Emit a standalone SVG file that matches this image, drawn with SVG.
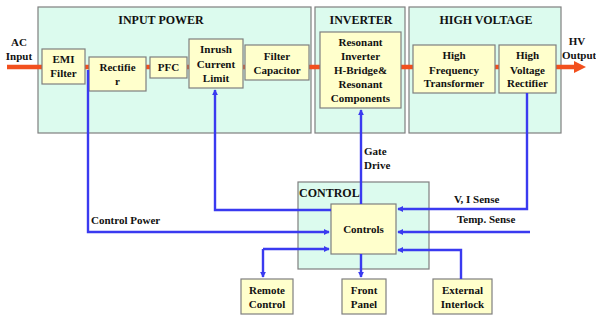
<svg xmlns="http://www.w3.org/2000/svg" width="596" height="320" viewBox="0 0 596 320" font-family="'Liberation Serif', 'Times New Roman', 'DejaVu Serif', serif" font-weight="bold" font-size="11">
<defs>
<style>
.grp{fill:#DCFBEE;stroke:#7F7F7F;stroke-width:1.2}
.box{fill:#FFFFCC;stroke:#7F7F7F;stroke-width:1.2}
text{fill:#111}
.c{text-anchor:middle}
.t{font-size:12px}
.pw{stroke:#F2501E;stroke-width:4.5;fill:none}
.sig{stroke:#3A3AF0;stroke-width:2.4;fill:none}
</style>
<marker id="ah" viewBox="0 0 8 8" refX="7" refY="4" markerWidth="2.6" markerHeight="2.6" orient="auto" markerUnits="strokeWidth">
<path d="M0,0 L8,4 L0,8 z" fill="#3A3AF0"/>
</marker>
</defs>
<rect width="596" height="320" fill="#FFFFFF"/>
<g id="input-power-group"><rect class="grp" x="38" y="7" width="273" height="126"/><text class="c t" x="161" y="24">INPUT POWER</text></g>
<g id="inverter-group"><rect class="grp" x="315" y="7" width="90" height="126"/><text class="c t" x="361" y="24">INVERTER</text></g>
<g id="high-voltage-group"><rect class="grp" x="409" y="7" width="152" height="126"/><text class="c t" x="486" y="24">HIGH VOLTAGE</text></g>
<g id="control-group"><rect class="grp" x="298" y="182" width="131" height="87"/><text x="299" y="197" class="t">CONTROL</text></g>
<g id="power-path">
<line class="pw" x1="7" y1="67" x2="576" y2="67"/>
<polygon points="574,61 586,67 574,73" fill="#F2501E"/>
</g>
<g id="ac-input"><text class="c" x="19" y="46">AC</text><text class="c" x="19" y="60">Input</text></g>
<g id="hv-output"><text class="c" x="577" y="45">HV</text><text x="562" y="59">Output</text></g>
<g id="emi-filter"><rect class="box" x="42" y="49" width="43" height="35"/><text class="c" x="63.5" y="63">EMI</text><text class="c" x="63.5" y="77">Filter</text></g>
<g id="rectifier"><rect class="box" x="89" y="57" width="57" height="34"/><text class="c" x="117.5" y="71">Rectifie</text><text class="c" x="117.5" y="85">r</text></g>
<g id="pfc"><rect class="box" x="150" y="57" width="37" height="21"/><text class="c" x="168.5" y="71">PFC</text></g>
<g id="inrush"><rect class="box" x="189" y="39" width="54" height="49"/><text class="c" x="216" y="53">Inrush</text><text class="c" x="216" y="68">Current</text><text class="c" x="216" y="82">Limit</text></g>
<g id="filter-capacitor"><rect class="box" x="245" y="45" width="64" height="35"/><text class="c" x="277" y="60">Filter</text><text class="c" x="277" y="74">Capacitor</text></g>
<g id="resonant-inverter"><rect class="box" x="320" y="32" width="81" height="76"/><text class="c" x="360.5" y="46">Resonant</text><text class="c" x="360.5" y="60">Inverter</text><text class="c" x="360.5" y="74">H-Bridge&amp;</text><text class="c" x="360.5" y="88">Resonant</text><text class="c" x="360.5" y="102">Components</text></g>
<g id="hf-transformer"><rect class="box" x="413" y="45" width="82" height="48"/><text class="c" x="454" y="59">High</text><text class="c" x="454" y="74">Frequency</text><text class="c" x="454" y="87">Transformer</text></g>
<g id="hv-rectifier"><rect class="box" x="499" y="45" width="57" height="48"/><text class="c" x="527.5" y="59">High</text><text class="c" x="527.5" y="74">Voltage</text><text class="c" x="527.5" y="87">Rectifier</text></g>
<g id="controls"><rect class="box" x="331" y="204" width="65" height="50"/><text class="c" x="363.5" y="233">Controls</text></g>
<g id="remote-control"><rect class="box" x="241" y="279" width="52" height="35"/><text class="c" x="267" y="294">Remote</text><text class="c" x="267" y="308">Control</text></g>
<g id="front-panel"><rect class="box" x="342" y="279" width="44" height="35"/><text class="c" x="364" y="294">Front</text><text class="c" x="364" y="308">Panel</text></g>
<g id="external-interlock"><rect class="box" x="433" y="279" width="59" height="35"/><text class="c" x="462.5" y="294">External</text><text class="c" x="462.5" y="308">Interlock</text></g>
<g id="connectors">
<polyline class="sig" points="88,70 88,232 329,232" marker-end="url(#ah)"/>
<polyline class="sig" points="331,210 215,210 215,90" marker-end="url(#ah)"/>
<polyline class="sig" points="361,204 361,110" marker-end="url(#ah)"/>
<polyline class="sig" points="527,93 527,209 398,209" marker-end="url(#ah)"/>
<polyline class="sig" points="530,232 398,232" marker-end="url(#ah)"/>
<polyline class="sig" points="263,249 329,249" marker-end="url(#ah)"/>
<polyline class="sig" points="263,249 263,277" marker-end="url(#ah)"/>
<polyline class="sig" points="361,254 361,277" marker-end="url(#ah)"/>
<polyline class="sig" points="461,279 461,250 398,250" marker-end="url(#ah)"/>
</g>
<g id="labels">
<text x="91" y="224">Control Power</text>
<text x="364" y="155">Gate</text>
<text x="364" y="169">Drive</text>
<text x="454" y="203">V, I Sense</text>
<text x="457" y="223">Temp. Sense</text>
</g>
</svg>
